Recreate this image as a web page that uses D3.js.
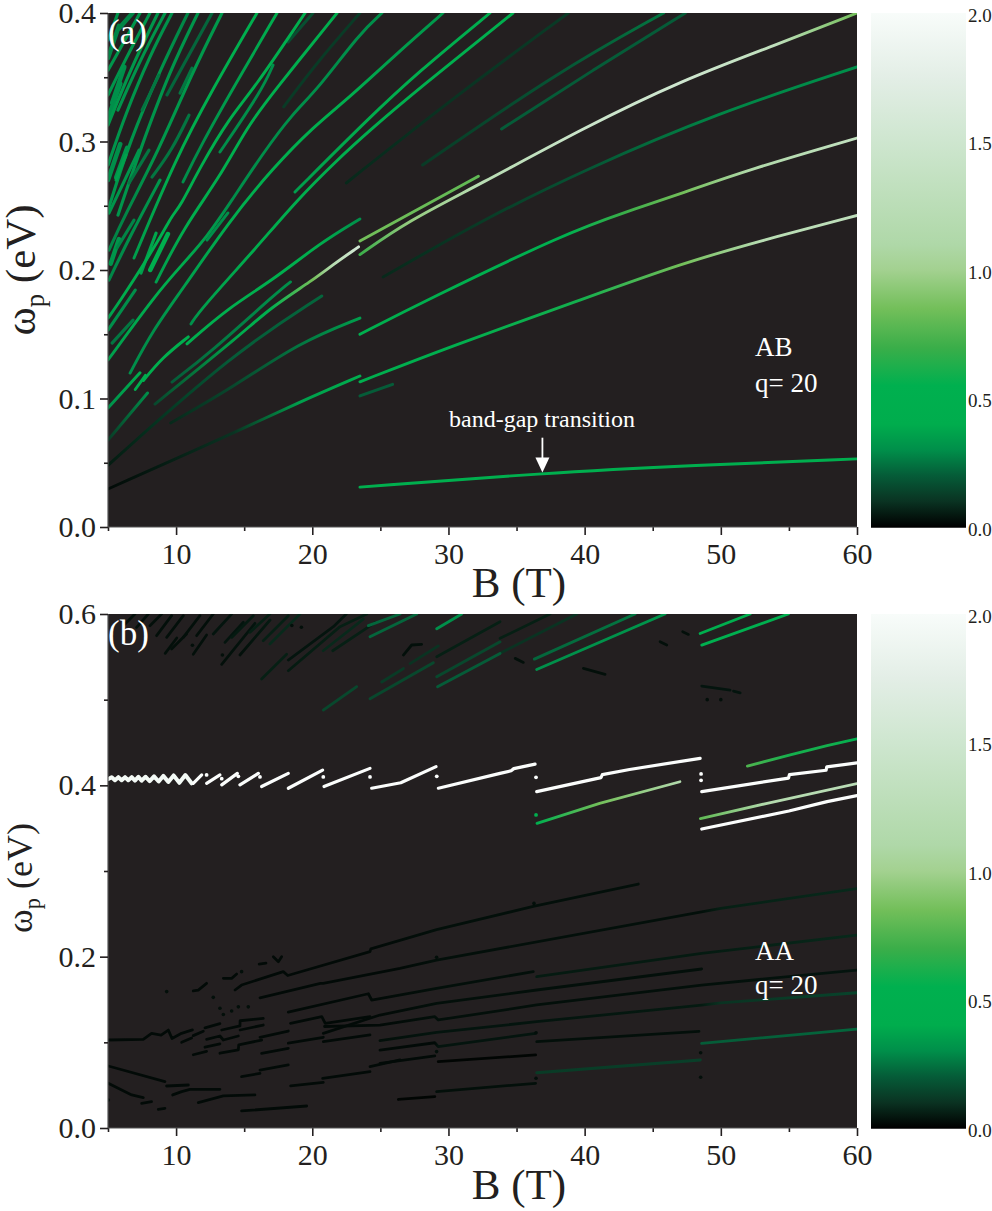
<!DOCTYPE html>
<html>
<head>
<meta charset="utf-8">
<script src="https://d3js.org/d3.v7.min.js"></script>
<style>
body { margin: 0; background: #fff; }
svg { display: block; font-family: "Liberation Serif", serif; }
.axis path, .axis line { stroke: #231f20; stroke-width: 1.6; }
.axis text { fill: #231f20; font-family: "Liberation Serif", serif; }
</style>
</head>
<body>
<svg id="chart" width="992" height="1211"></svg>
<script>
// colour bar: value -> colour
var barValues = [0, 0.1, 0.2, 0.3, 0.4, 0.55, 0.7, 0.85, 1.0, 1.1, 1.5, 1.75, 2.0];
var barColors = ['#000000', '#0a3322', '#055c38', '#008f4a', '#00ad4d', '#00b04f', '#3bae49', '#73bf5a', '#a3d190', '#afd8a8', '#cee6cf', '#e3eee6', '#f8fcfa'];
var barTicks = [0, 0.5, 1, 1.5, 2];

var xMajor = [10, 20, 30, 40, 50, 60];
var xMinor = [5, 15, 25, 35, 45, 55];

// every line: points of [B, energy, strength]
var abRight = [
  [[23.5,.031,.5],[37,.042,.48],[48,.048,.47],[60,.053,.45]],
  [[23.5,.113,.5],[30,.14,.5],[39.7,.1767,.6],[47.2,.2054,.85],[53,.223,1.2],[60,.2424,1.3]],
  [[23.5,.15,.5],[28.4,.1767,.5],[38.7,.229,.55],[43,.245,.7],[47.2,.26,.85],[52,.278,1.1],[60,.3027,1.35]],
  [[23.5,.212,.7],[27,.238,.95],[32.2,.266,1.2],[39.9,.3105,1.45],[47.2,.348,1.5],[54,.375,1.3],[60,.4,.85]],
  [[23.5,.2226,.85],[32.2,.273,.8]],
  [[25.2,.1945,.08],[32.5,.239,.12],[40,.278,.18],[49.7,.322,.28],[60,.358,.3]],
  [[28.1,.2817,.12],[38,.354,.18],[45.8,.4,.25]],
  [[33.9,.3097,.2],[40.6,.3556,.2],[47.4,.4,.2]],
  [[22.5,.2677,.08],[30.1,.332,.1],[38.8,.4,.12]],
  [[23.5,.102,.2],[25.9,.111,.2]]
];

var abMiddle = [
  [[11.09,.158,.3],[11.76,.1688,.35],[15.94,.2179,.42],[18.88,.2545,.45],[21.82,.2856,.5],[24.24,.3089,.5],[27.69,.34,.5],[34.74,.4,.5]],
  [[18.73,.2607,.35],[24.24,.3191,.42],[27.69,.3532,.45],[33.05,.4,.45]],
  [[6.62,.1198,.3],[8.3,.1533,.3],[10.43,.1844,.35],[13.96,.2389,.45],[17.12,.2794,.5],[20.05,.3113,.5],[22.77,.3346,.45],[25.93,.3658,.35],[29.6,.4,.33]],
  [[5,.13,.35],[8.6,.1821,.45],[10.29,.2023,.42],[12.27,.2257,.35],[13.96,.2521,.3],[16.38,.291,.3],[18.59,.3222,.3],[20.35,.34,.3],[23.5,.3844,.3],[25.12,.4,.3]],
  [[12.27,.2233,.3],[13.81,.2444,.3]],
  [[8.53,.1906,.35],[10.58,.2334,.4],[13.22,.2723,.5],[15.2,.3113,.5],[17.26,.34,.5],[21.82,.4,.5]],
  [[13.22,.2918,.3],[16.31,.34,.3],[17.12,.3595,.3]],
  [[18.22,.3774,.17],[20.05,.4,.17]],
  [[17.9,.327,.12],[20.3,.361,.12],[23.5,.4,.12]],
  [[5,.1626,.35],[5.95,.1766,.4],[8.89,.2257,.5],[9.7,.2427,.55],[10.29,.249,.5],[11.76,.2801,.5],[13.96,.319,.5],[15.65,.34,.5],[19.47,.4,.5]],
  [[10.51,.2685,.3],[11.76,.2957,.3],[14.1,.34,.35],[17.41,.4,.45]],
  [[6.91,.2093,.35],[9.99,.2871,.4],[12.64,.34,.5],[15.94,.4,.5]]
];

var abLeft = [
  [[9.33,.3362,.22],[12.64,.4,.22]],
  [[10.29,.3377,.25],[11.17,.3571,.25]],
  [[5.07,.2155,.28],[6.17,.2412,.28],[8.74,.2933,.33],[11.17,.3532,.33],[13.37,.4,.33]],
  [[5.73,.2427,.32],[7.35,.2933,.32],[9.55,.3555,.32],[11.61,.4,.32]],
  [[5,.2466,.32],[6.62,.3011,.32],[8.82,.3555,.32],[10.87,.4,.28]],
  [[5,.2816,.32],[6.25,.3205,.32],[8.08,.3672,.32],[9.7,.4,.3]],
  [[5.73,.3244,.32],[7.35,.3633,.32],[9.19,.4,.32]],
  [[5,.3128,.33],[6.62,.3555,.33],[8.67,.4,.32]],
  [[5,.3361,.32],[6.25,.3633,.32],[8.08,.4,.32]],
  [[5,.3555,.32],[6.25,.3789,.32],[7.35,.4,.32]],
  [[5,.3789,.32],[5.73,.4,.32]],
  [[8.23,.2723,.25],[9.7,.2933,.25],[10.95,.3205,.25]],
  [[7.5,.3244,.25],[8.74,.3516,.25]],
  [[5.59,.27,.36],[6.32,.2894,.36]],
  [[6.54,.2676,.25],[8.01,.2933,.25]],
  [[5.07,.2443,.32],[7.28,.2933,.32]],
  [[5.07,.1922,.28],[6.62,.2264,.3],[8.82,.27,.32]],
  [[5.66,.2171,.28],[6.91,.2388,.28]],
  [[7.42,.1976,.35],[8.53,.2287,.38]],
  [[5,.1533,.3],[7,.1844,.3]],
  [[5.3,.1431,.25],[6.84,.161,.25]]
];

// the thick patches at the low-field edge
var abBlobs = [
  [[5,.318,.3],[5.9,.345,.3]],
  [[5.3,.33,.3],[6.2,.358,.3]],
  [[5,.365,.28],[5.8,.39,.28]],
  [[5.8,.388,.28],[6.8,.4,.28]],
  [[5,.27,.3],[5.9,.298,.3]],
  [[5.6,.272,.32],[6.4,.295,.32]],
  [[5.2,.205,.32],[5.8,.224,.32]],
  [[8.1,.2,.45],[9.4,.228,.45]]
];

var abLower = [
  [[5,.0296,.02],[14.2,.073,.1],[19,.097,.35],[23.5,.1175,.45]],
  [[9.6,.081,.08],[14.2,.109,.15],[19.1,.144,.25],[23.5,.1626,.35]],
  [[5,.048,.05],[14.2,.1354,.2],[20.7,.1798,.22]],
  [[5,.0677,.12],[7.9,.1043,.3]],
  [[5,.0926,.3],[7.35,.12,.5]],
  [[7,.107,.4],[7.75,.118,.45]],
  [[7.6,.114,.45],[9,.132,.5],[10.9,.148,.5]],
  [[10.8,.1425,.45],[13.81,.1704,.5],[17.12,.1922,.5],[20.57,.221,.4],[23.5,.2397,.3]],
  [[9.7,.1128,.2],[12.49,.1354,.25],[17.6,.1844,.3],[18.4,.1907,.3]],
  [[8.45,.0957,.15],[14.9,.151,.45],[16.9,.1704,.5],[20.05,.1922,.85],[21.5,.204,1.2],[23.4,.218,1.55]]
];

var aaWave = [[5.02,.4074],[5.27,.4095],[5.51,.406],[5.76,.4095],[6,.406],[6.25,.4095],[6.49,.406],[6.74,.4095],[6.98,.4055],[7.23,.41],[7.47,.4055],[7.76,.41],[8.06,.405],[8.38,.4105],[8.72,.4045],[9.06,.411],[9.43,.404],[9.82,.4115],[10.24,.403],[10.68,.412],[11.14,.4024]];
var aaWhite = [
  [[11.26,.4024],[11.88,.4121]],
  [[12.24,.4024],[13.22,.4121]],
  [[13.35,.4005],[14.5,.414]],
  [[14.69,.4005],[16.04,.414]],
  [[16.28,.3986],[18.24,.414]],
  [[18.24,.3966],[20.76,.4178]],
  [[20.86,.3986],[24.24,.4198]],
  [[24.36,.3966],[26.5,.403],[29.09,.4218]],
  [[29.26,.3966],[33.79,.414],[34.6,.417],[34.8,.4195],[36.36,.4248]],
  [[36.48,.3926],[41.2,.409],[41.3,.4125],[43.3,.4185],[48.48,.4315]],
  [[48.6,.3926],[54.97,.4085],[55.04,.4125],[57.73,.4176],[57.78,.4215],[60,.4262]],
  [[48.6,.349],[55,.37],[57.8,.381],[60,.388]]
];
var aaWhiteDots = [[12.24,.4121],[13.35,.4078],[14.57,.4105],[16.16,.4098],[20.81,.4098],[24.24,.4098],[29.14,.4105],[36.43,.4093],[48.55,.4133],[48.55,.4059]];

var aaGreen = [
  [[48.5,.3612,.8],[53.4,.379,1.15],[60,.402,1.25]],
  [[51.95,.4225,.75],[55.1,.4355,.6],[57.8,.4464,.6],[60,.4542,.55]],
  [[36.5,.3556,.5],[41.1,.379,.85],[47,.4042,1.15]],
  [[48.6,.5637,.55],[54.96,.6,.55]],
  [[48.48,.5773,.5],[52.15,.6,.5]],
  [[36.48,.5353,.3],[45.9,.6,.32]],
  [[36.31,.5473,.22],[43.7,.6,.25]],
  [[29.2,.5151,.2],[33.79,.5539,.2]],
  [[29.14,.5267,.15],[33.79,.5675,.15]],
  [[29.14,.5827,.3],[30.97,.6,.3]],
  [[24.24,.5735,.22],[27.67,.6,.22]],
  [[24.12,.5864,.22],[26.44,.6,.22]],
  [[20.81,.4879,.15],[23.26,.5152,.15]],
  [[24.24,.501,.15],[28.89,.5431,.15]],
  [[25.1,.5207,.12],[26.69,.5363,.12]],
  [[27.18,.5421,.1],[29.26,.5628,.1]]
];

var aaDark = [
  [[29.14,.5501,.06],[33.79,.5909,.06]],
  [[33.79,.5716,.06],[37.46,.6,.06]],
  [[33.79,.5541,.1],[39.42,.6,.1]],
  [[16.28,.5241,.06],[18.12,.553,.06]],
  [[18.24,.5338,.05],[22.04,.5852,.06],[24,.6,.06]],
  [[18.24,.5463,.04],[21.55,.5852,.04],[22.5,.6,.04]],
  [[20.8,.5571,.08],[23.75,.5941,.08]],
  [[21.5,.5571,.06],[24.6,.59,.06]],
  [[13.35,.5412,.03],[15.79,.5891,.04]],
  [[14.69,.5521,.03],[16.9,.593,.05]],
  [[11.26,.553,.03],[12.24,.5755,.03]],
  [[9.2,.5541,.03],[10.05,.572,.03]],
  [[6.25,.5883,.03],[6.98,.6,.03]],
  [[7.1,.5844,.03],[7.96,.6,.03]],
  [[8.08,.5864,.03],[8.94,.6,.03]],
  [[8.57,.5747,.03],[9.67,.598,.03]],
  [[9.31,.5727,.03],[10.53,.598,.03]],
  [[9.67,.5591,.03],[10.77,.5766,.03]],
  [[10.53,.5727,.03],[11.75,.598,.03]],
  [[11.51,.5747,.03],[12.73,.6,.03]],
  [[12.73,.5766,.04],[14.08,.6,.04]],
  [[13.59,.5669,.04],[14.94,.5903,.04]],
  [[14.08,.5727,.05],[15.67,.598,.05]],
  [[15.43,.5786,.06],[16.89,.6,.06]],
  [[16.4,.5688,.06],[18.24,.598,.06]],
  [[16.89,.5649,.08],[19.1,.6,.08]],
  [[26.69,.5521,.03],[27.3,.5638,.03],[28.03,.5646,.03]],
  [[39.91,.5365,.03],[41.5,.5295,.03]],
  [[34.9,.5482,.03],[35.5,.5435,.03]],
  [[45.54,.5677,.03],[46.03,.5638,.03]],
  [[47.2,.5794,.03],[47.62,.5762,.03]],
  [[48.6,.5159,.04],[50.68,.5112,.04]],
  [[50.93,.51,.04],[51.42,.508,.04]],
  // low branches
  [[5.02,.0724,.02],[9.18,.0541,.02]],
  [[9.3,.049,.02],[10.9,.0502,.02]],
  [[5.02,.0522,.02],[6.74,.0386,.02],[7.59,.0355,.02]],
  [[7.47,.0288,.02],[8.2,.0308,.02]],
  [[8.69,.0218,.02],[9.18,.023,.02]],
  [[9.75,.0386,.02],[10.41,.0425,.02],[11.02,.0452,.02],[13.22,.0452,.02]],
  [[11.63,.0296,.02],[13.47,.0374,.02],[15.79,.0386,.02]],
  [[14.81,.0199,.02],[19.59,.0257,.02]],
  [[14.81,.0599,.02],[16.16,.0638,.02]],
  [[16.16,.0677,.02],[18.24,.0736,.02]],
  [[18.41,.0491,.02],[20.81,.0533,.02]],
  [[20.76,.058,.02],[24.24,.0658,.02]],
  [[24.24,.0716,.02],[26.44,.0794,.02]],
  [[5.02,.1027,.02],[7.59,.1035,.02],[8.2,.1105,.02],[8.9,.1085,.02],[9.43,.1143,.02],[9.7,.1045,.02],[10.4,.1105,.02],[11.2,.1145,.02]],
  [[10.41,.1,.02],[11.14,.1051,.02]],
  [[11.26,.1078,.02],[12,.1129,.02]],
  [[12.12,.1168,.02],[13.22,.1219,.02]],
  [[11.26,.0855,.02],[12.24,.0894,.02]],
  [[12.12,.0943,.02],[13.22,.0982,.02]],
  [[12.24,.1035,.02],[13.22,.1074,.02],[13.47,.1027,.02],[14.57,.1074,.02]],
  [[13.22,.0873,.02],[14.57,.0912,.02],[14.6,.097,.02],[16.28,.1027,.02]],
  [[13.35,.1144,.02],[14.69,.1191,.02],[14.7,.1252,.02],[16.4,.128,.02]],
  [[14.7,.1144,.02],[16.4,.1202,.02]],
  [[16.28,.0871,.02],[18.24,.093,.02]],
  [[18.24,.099,.02],[20.81,.1059,.02]],
  [[20.81,.1008,.02],[24.24,.1086,.02]],
  [[16.16,.1059,.02],[18.24,.1132,.02]],
  [[18.4,.1222,.02],[20.7,.13,.02],[20.95,.1222,.02],[24.24,.13,.02]],
  // upper branches
  [[14.33,.1611,.02],[14.81,.1669,.02],[17.87,.1825,.02],[18.2,.178,.02],[24.24,.2058,.02],[24.3,.209,.02],[29.13,.2315,.03],[36.23,.2587,.03],[43.94,.2848,.03]],
  [[16.16,.152,.02],[20.6,.1689,.02],[20.8,.1689,.02],[26.44,.1864,.02],[29.13,.196,.03],[48.59,.2522,.03],[50,.2565,.06],[59.98,.2793,.08]],
  [[18.24,.1353,.02],[24.12,.1567,.02],[24.36,.1494,.02],[29.13,.163,.03],[36.23,.1825,.03]],
  [[36.48,.1766,.05],[48.59,.2038,.05],[59.98,.2252,.08]],
  [[20.81,.1105,.02],[24.97,.1319,.02],[29.13,.1455,.03],[36.48,.1611,.03],[48.59,.1856,.03]],
  [[20.9,.1185,.02],[24.97,.1202,.02],[29,.13,.03],[29.25,.1261,.03],[36.48,.1436,.03],[48.59,.1669,.03],[59.98,.1844,.04]],
  [[24.97,.1021,.03],[29.13,.1115,.04],[36.48,.1241,.04],[48.59,.1435,.05],[50,.146,.1],[59.98,.1579,.14]],
  [[24.97,.091,.02],[29,.0995,.02],[29.25,.0949,.04],[36.4,.1105,.04]],
  [[36.48,.1009,.03],[48.4,.1127,.03]],
  [[48.59,.0988,.2],[59.98,.1153,.22]],
  [[24.97,.0754,.02],[29,.0841,.02]],
  [[29.25,.0775,.01],[36.4,.0853,.01]],
  [[36.48,.0645,.12],[48.5,.0794,.13]],
  [[26.32,.0333,.01],[29,.0366,.01]],
  [[29.13,.0425,.03],[36.4,.0522,.03]],
  [[13.47,.1747,.02],[14.08,.1747,.02],[14.45,.1797,.02]],
  [[17.14,.2,.02],[17.51,.1941,.02],[17.75,.2,.02]],
  [[11.26,.16,.02],[11.63,.161,.02],[12.24,.1689,.02]],
  [[16.1,.1914,.02],[16.6,.1925,.02]]
];
var aaDarkDots = [[48.52,.0592],[36.28,.2622],[29.13,.1992],[29.13,.0892],[48.52,.0878],[36.43,.058],[36.43,.1112],[9.31,.1592],[12.73,.1525],[13.22,.1398],[13.47,.1325],[14.08,.1365],[14.57,.1414],[15.3,.1414],[14.81,.1825],[5.02,.0327],[49,.5],[50,.5],[11.2,.5635],[13.4,.5521],[18.5,.5865],[19.2,.5846]];
var aaGreenDots = [[36.43,.3654]];

var svg = d3.select('#chart');
var left = 108, right = 857;
var barLeft = 871, barRight = 966;

var x = d3.scaleLinear().domain([5, 60]).range([left, right]);
var color = d3.scaleLinear().domain(barValues).range(barColors);
var defs = svg.append('defs');
var lineId = 0;

function drawLine(g, y, points, width, curve, fixed){
    var line = d3.line().x(function(d){ return x(d[0]); }).y(function(d){ return y(d[1]); }).curve(curve);
    var stroke = fixed;
    if(!fixed){
        var id = 'ln' + (lineId++);
        var first = points[0][0], last = points[points.length-1][0];
        var grad = defs.append('linearGradient').attr('id', id).attr('gradientUnits', 'userSpaceOnUse')
            .attr('x1', x(first)).attr('y1', 0).attr('x2', x(last)).attr('y2', 0);
        points.forEach(function(d){
            grad.append('stop').attr('offset', (d[0]-first)/(last-first)).attr('stop-color', color(d[2]));
        });
        stroke = 'url(#' + id + ')';
    }
    g.append('path').attr('d', line(points)).attr('fill', 'none').attr('stroke', stroke)
        .attr('stroke-width', width).attr('stroke-linecap', 'round').attr('stroke-linejoin', 'round');
}

function drawFrame(top, bottom, yMax, yMajor, yMinor){
    var y = d3.scaleLinear().domain([0, yMax]).range([bottom, top]);
    var g = svg.append('g');
    var clipId = 'clip' + top;
    defs.append('clipPath').attr('id', clipId).append('rect').attr('x', left).attr('y', top).attr('width', right-left).attr('height', bottom-top);
    g.append('rect').attr('x', left).attr('y', top).attr('width', right-left).attr('height', bottom-top).attr('fill', '#231f20');

    var ax = d3.axisBottom(x).tickValues(xMajor).tickSize(8).tickPadding(8).tickFormat(d3.format('d'));
    var axBottom = svg.append('g').attr('class', 'axis').attr('transform', 'translate(0,' + bottom + ')').call(ax);
    axBottom.selectAll('text').attr('font-size', 30);
    axBottom.select('.domain').remove();
    svg.append('g').attr('class', 'axis').attr('transform', 'translate(0,' + bottom + ')')
        .call(d3.axisBottom(x).tickValues(xMinor).tickSize(4).tickFormat('')).select('.domain').remove();
    svg.append('line').attr('x1', left).attr('x2', right).attr('y1', bottom).attr('y2', bottom).attr('stroke', '#555').attr('stroke-width', 1.2);
    svg.append('line').attr('x1', left).attr('x2', left).attr('y1', top).attr('y2', bottom).attr('stroke', '#555').attr('stroke-width', 1.2);

    var ay = svg.append('g').attr('class', 'axis').attr('transform', 'translate(' + left + ',0)')
        .call(d3.axisLeft(y).tickValues(yMajor).tickSize(8).tickPadding(4).tickFormat(d3.format('.1f')));
    ay.selectAll('text').attr('font-size', 30);
    ay.select('.domain').remove();
    svg.append('g').attr('class', 'axis').attr('transform', 'translate(' + left + ',0)')
        .call(d3.axisLeft(y).tickValues(yMinor).tickSize(4).tickFormat('')).select('.domain').remove();

    return { y: y, plot: g.append('g').attr('clip-path', 'url(#' + clipId + ')') };
}

function drawBar(top, bottom){
    var yBar = d3.scaleLinear().domain([0, 2]).range([bottom, top]);
    var id = 'bar' + top;
    var grad = defs.append('linearGradient').attr('id', id).attr('x1', 0).attr('y1', 1).attr('x2', 0).attr('y2', 0);
    barValues.forEach(function(v, i){
        grad.append('stop').attr('offset', v/2).attr('stop-color', barColors[i]);
    });
    svg.append('rect').attr('x', barLeft).attr('y', top).attr('width', barRight-barLeft).attr('height', bottom-top).attr('fill', 'url(#' + id + ')');
    svg.append('line').attr('x1', barLeft).attr('x2', barRight).attr('y1', bottom).attr('y2', bottom).attr('stroke', '#000').attr('stroke-width', 1.5);
    var a = svg.append('g').attr('class', 'axis').attr('transform', 'translate(' + barRight + ',2)')
        .call(d3.axisRight(yBar).tickValues(barTicks).tickSize(0).tickPadding(2).tickFormat(d3.format('.1f')));
    a.select('.domain').remove();
    a.selectAll('text').attr('font-size', 19);
}

function yTitle(cx, cy, size){
    var t = svg.append('text').attr('transform', 'translate(' + cx + ',' + cy + ') rotate(-90)')
        .attr('text-anchor', 'middle').attr('font-size', size).attr('fill', '#231f20');
    t.append('tspan').text('ω');
    t.append('tspan').attr('font-size', size*0.62).attr('dy', size*0.22).text('p');
    t.append('tspan').attr('dy', -size*0.22).text(' (eV)');
}

function label(px, py, text, size, anchor){
    svg.append('text').attr('x', px).attr('y', py).attr('font-size', size).attr('fill', '#fff')
        .attr('text-anchor', anchor || 'start').text(text);
}

function bTitle(py){
    svg.append('text').attr('x', 519).attr('y', py).attr('font-size', 43).attr('fill', '#231f20')
        .attr('text-anchor', 'middle').text('B (T)');
}

// panel (a), AB stacking
var a = drawFrame(13, 527, 0.4, [0, 0.1, 0.2, 0.3, 0.4], [0.05, 0.15, 0.25, 0.35]);
abBlobs.forEach(function(d){ drawLine(a.plot, a.y, d, 4.5, d3.curveLinear); });
abLeft.forEach(function(d){ drawLine(a.plot, a.y, d, 3.1, d3.curveBasis); });
abMiddle.concat(abLower, abRight).forEach(function(d){ drawLine(a.plot, a.y, d, 2.9, d3.curveBasis); });
drawBar(13, 527);
yTitle(35, 270, 43);
bTitle(597);
label(108, 44, '(a)', 35);
label(755, 356, 'AB', 27);
label(755, 392, 'q= 20', 27);
label(542, 427, 'band-gap transition', 24, 'middle');

// arrow to the transition line
var arrowB = [36.9];
var arrowFrom = [0.0695], arrowTo = [0.0425];
a.plot.append('line').attr('x1', x(arrowB[0])).attr('x2', x(arrowB[0])).attr('y1', a.y(arrowFrom[0])).attr('y2', a.y(arrowTo[0]) - 12)
    .attr('stroke', '#fff').attr('stroke-width', 1.8);
a.plot.append('path').attr('fill', '#fff')
    .attr('d', 'M' + (x(arrowB[0])-7) + ',' + (a.y(arrowTo[0])-15) + 'L' + (x(arrowB[0])+7) + ',' + (a.y(arrowTo[0])-15) + 'L' + x(arrowB[0]) + ',' + a.y(arrowTo[0]) + 'Z');

// panel (b), AA stacking
var b = drawFrame(614, 1128, 0.6, [0, 0.2, 0.4, 0.6], [0.1, 0.3, 0.5]);
aaDark.forEach(function(d){ drawLine(b.plot, b.y, d, 2.8, d3.curveLinear); });
aaGreen.forEach(function(d){ drawLine(b.plot, b.y, d, 2.8, d3.curveLinear); });
drawLine(b.plot, b.y, aaWave, 4, d3.curveLinear, '#f4faf6');
aaWhite.forEach(function(d){ drawLine(b.plot, b.y, d, 3.2, d3.curveLinear, '#fbfdfc'); });
b.plot.selectAll('circle.dark').data(aaDarkDots).enter().append('circle').attr('class', 'dark')
    .attr('cx', function(d){ return x(d[0]); }).attr('cy', function(d){ return b.y(d[1]); }).attr('r', 1.8).attr('fill', color(0.03));
b.plot.selectAll('circle.white').data(aaWhiteDots).enter().append('circle').attr('class', 'white')
    .attr('cx', function(d){ return x(d[0]); }).attr('cy', function(d){ return b.y(d[1]); }).attr('r', 1.9).attr('fill', '#fbfdfc');
b.plot.selectAll('circle.green').data(aaGreenDots).enter().append('circle').attr('class', 'green')
    .attr('cx', function(d){ return x(d[0]); }).attr('cy', function(d){ return b.y(d[1]); }).attr('r', 1.9).attr('fill', color(0.5));
drawBar(614, 1128);
yTitle(32, 878, 36);
bTitle(1199);
label(108, 645, '(b)', 35);
label(755, 960, 'AA', 27);
label(755, 994, 'q= 20', 27);
</script>
</body>
</html>
